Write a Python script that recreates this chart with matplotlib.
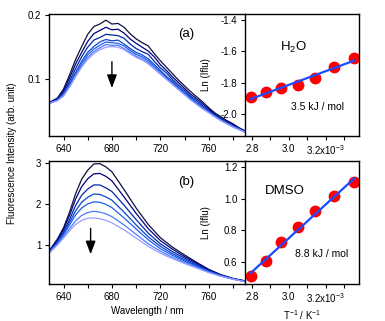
import numpy as np
import matplotlib
matplotlib.use("Agg")
import matplotlib.pyplot as plt
from matplotlib.ticker import FixedLocator, FixedFormatter

plt.rcParams['font.family'] = ['Liberation Sans', 'DejaVu Sans']
plt.rcParams['mathtext.fontset'] = 'custom'
plt.rcParams['mathtext.rm'] = 'Liberation Sans'
plt.rcParams['mathtext.it'] = 'Liberation Sans:italic'
plt.rcParams['mathtext.bf'] = 'Liberation Sans:bold'

# ---------------- spectra, water (panel a) ----------------
wl_a = [628, 630, 635, 640, 645, 650, 655, 660, 665, 670, 675, 680, 685, 690,
        695, 700, 705, 710, 715, 720, 725, 730, 735, 740, 745, 750, 755, 760,
        765, 770, 775, 780, 785, 790]
water_298 = [.064, .066, .071, .085, .107, .131, .151, .170, .182, .186, .192, .186, .187, .181,
             .171, .163, .157, .152, .140, .129, .119, .109, .099, .090, .081, .073, .065, .056,
             .048, .042, .036, .031, .025, .020]
water_308 = [.064, .065, .070, .082, .102, .124, .142, .159, .171, .176, .181, .177, .178, .172,
             .163, .156, .150, .144, .135, .123, .114, .104, .095, .086, .077, .070, .062, .054,
             .046, .040, .035, .030, .024, .019]
water_318 = [.063, .065, .069, .079, .097, .117, .135, .150, .161, .165, .170, .169, .168, .164,
             .155, .148, .143, .139, .128, .118, .110, .100, .091, .083, .074, .067, .059, .052,
             .045, .039, .033, .028, .024, .019]
water_328 = [.063, .064, .068, .077, .093, .111, .128, .142, .151, .158, .162, .160, .161, .155,
             .148, .142, .138, .132, .123, .114, .105, .097, .088, .080, .072, .064, .057, .050,
             .044, .038, .032, .027, .023, .018]
water_338 = [.063, .064, .068, .076, .091, .109, .124, .138, .147, .153, .158, .157, .156, .152,
             .145, .139, .135, .129, .120, .112, .103, .095, .087, .078, .070, .063, .056, .049,
             .043, .037, .032, .027, .023, .018]
water_348 = [.063, .064, .067, .075, .089, .106, .121, .134, .143, .149, .154, .153, .153, .148,
             .142, .136, .132, .126, .118, .109, .101, .093, .085, .077, .069, .062, .055, .049,
             .042, .036, .031, .026, .022, .018]
water_358 = [.063, .064, .067, .074, .088, .104, .119, .131, .140, .146, .150, .151, .150, .146,
             .140, .134, .130, .124, .116, .108, .100, .092, .084, .076, .068, .061, .054, .048,
             .042, .036, .031, .026, .022, .018]

# ---------------- spectra, DMSO (panel b) ----------------
wl_b = [628, 635, 640, 645, 650, 655, 660, 665, 670, 675, 680, 690, 700, 710,
        720, 730, 740, 750, 760, 770, 780, 790]
dmso_298 = [.85, 1.15, 1.42, 1.80, 2.25, 2.60, 2.82, 2.97, 2.98, 2.90, 2.78, 2.35, 1.90, 1.50,
            1.18, .95, .76, .58, .41, .28, .19, .13]
dmso_308 = [.84, 1.12, 1.375, 1.72, 2.12, 2.42, 2.61, 2.73, 2.74, 2.67, 2.56, 2.17, 1.77, 1.40,
            1.11, .90, .72, .555, .395, .27, .185, .125]
dmso_318 = [.83, 1.09, 1.32, 1.62, 1.96, 2.21, 2.36, 2.46, 2.46, 2.39, 2.30, 1.97, 1.62, 1.29,
            1.03, .84, .68, .525, .38, .265, .18, .12]
dmso_328 = [.82, 1.07, 1.28, 1.55, 1.83, 2.04, 2.16, 2.24, 2.23, 2.17, 2.09, 1.80, 1.49, 1.20,
            .97, .79, .64, .50, .365, .26, .18, .12]
dmso_338 = [.815, 1.05, 1.245, 1.49, 1.73, 1.90, 2.00, 2.05, 2.04, 1.99, 1.91, 1.66, 1.39, 1.13,
            .91, .75, .61, .48, .355, .25, .175, .115]
dmso_348 = [.81, 1.02, 1.20, 1.40, 1.59, 1.72, 1.79, 1.82, 1.80, 1.76, 1.69, 1.49, 1.26, 1.03,
            .85, .70, .58, .46, .34, .245, .17, .11]
dmso_358 = [.80, 1.00, 1.17, 1.35, 1.50, 1.60, 1.65, 1.66, 1.64, 1.60, 1.54, 1.37, 1.17, .97,
            .80, .67, .55, .44, .33, .24, .17, .11]

# ---------------- Arrhenius data ----------------
temperature_K = [358, 348, 338, 328, 318, 308, 298]
ln_flu_water = [-1.887, -1.861, -1.834, -1.815, -1.772, -1.696, -1.641]
ln_flu_dmso = [0.514, 0.608, 0.725, 0.819, 0.920, 1.018, 1.102]

water_curves = [water_298, water_308, water_318, water_328, water_338, water_348, water_358]
dmso_curves = [dmso_298, dmso_308, dmso_318, dmso_328, dmso_338, dmso_348, dmso_358]
curve_colors = ['#10103c', '#000080', '#0028a8', '#0a46cc', '#1e5ef0', '#4a7cff', '#9c9cff']

inv_T = 1e3 / np.array(temperature_K, dtype=float)

W, H = 385, 321
fig = plt.figure(figsize=(W / 100, H / 100), dpi=100)


def frame(px_left, px_top, px_right, px_bottom):
    return [px_left / W, 1 - px_bottom / H, (px_right - px_left) / W, (px_bottom - px_top) / H]


TICK = dict(direction='out', length=3, width=0.8, labelsize=7, pad=2.5, colors='black')


def spectra_panel(rect, wl, curves, ylim, yticks, ylabels, tag, arrow_x, arrow_y0, arrow_y1, show_xlabel):
    ax = fig.add_axes(rect)
    for c, col in zip(curves, curve_colors):
        ax.plot(wl, c, color=col, lw=0.9)
    ax.set_xlim(628, 790)
    ax.set_ylim(*ylim)
    ax.xaxis.set_major_locator(FixedLocator([640, 680, 720, 760]))
    ax.xaxis.set_minor_locator(FixedLocator([660, 700, 740, 780]))
    ax.yaxis.set_major_locator(FixedLocator(yticks))
    ax.yaxis.set_major_formatter(FixedFormatter(ylabels))
    ax.tick_params(which='both', **TICK)
    ax.tick_params(which='minor', length=3)
    ax.spines['right'].set_visible(False)
    for s in ax.spines.values():
        s.set_linewidth(1.0)
    ax.text(0.70, tag[1], tag[0], transform=ax.transAxes, fontsize=9.5,
            ha='center', va='center')
    ax.annotate('', xy=(arrow_x, arrow_y1), xytext=(arrow_x, arrow_y0),
                arrowprops=dict(arrowstyle='-|>,head_length=0.8,head_width=0.3',
                                color='black', lw=1.0, shrinkA=0, shrinkB=0))
    if show_xlabel:
        ax.set_xlabel('Wavelength / nm', fontsize=7, labelpad=3)
    return ax


def arrhenius_panel(rect, lnvals, ylim, yticks, ylabels, solvent, solvent_pos, energy, energy_pos, show_xlabel):
    ax = fig.add_axes(rect)
    slope, icpt = np.polyfit(inv_T, lnvals, 1)
    xf = np.array([inv_T.min(), inv_T.max()])
    ax.plot(inv_T, lnvals, 'o', color='#ff0000', ms=7.5, mec='#ff0000', zorder=2)
    ax.plot(xf, slope * xf + icpt, color='#1a4cff', lw=1.6, zorder=3)
    ax.set_xlim(2.762, 3.381)
    ax.set_ylim(*ylim)
    ax.xaxis.set_major_locator(FixedLocator([2.8, 3.0, 3.2]))
    ax.xaxis.set_major_formatter(FixedFormatter(['2.8', '3.0', '3.2x10$^{-3}$']))
    ax.xaxis.set_minor_locator(FixedLocator([2.9, 3.1, 3.3]))
    ax.yaxis.set_major_locator(FixedLocator(yticks))
    ax.yaxis.set_major_formatter(FixedFormatter(ylabels))
    ax.tick_params(which='both', **TICK)
    ax.tick_params(which='minor', length=3)
    for s in ax.spines.values():
        s.set_linewidth(1.0)
    ax.set_ylabel('Ln (Iflu)', fontsize=7)
    ax.yaxis.set_label_coords(-0.30, 0.5)
    ax.text(solvent_pos[0], solvent_pos[1], solvent, transform=ax.transAxes,
            fontsize=9.5, ha='center', va='center')
    ax.text(energy_pos[0], energy_pos[1], energy, transform=ax.transAxes,
            fontsize=7.5, ha='center', va='center')
    if show_xlabel:
        ax.set_xlabel('T$^{-1}$ / K$^{-1}$', fontsize=7, labelpad=2)
    return ax


spectra_panel(frame(49, 14, 245, 136), wl_a, water_curves, (0.012, 0.2016),
              [0.1, 0.2], ['0.1', '0.2'], ('(a)', 0.834), 680, 0.1274, 0.0865, False)
spectra_panel(frame(49, 160.7, 245, 284), wl_b, dmso_curves, (0.053, 3.05),
              [1, 2, 3], ['1', '2', '3'], ('(b)', 0.825), 662.4, 1.405, 0.774, True)

arrhenius_panel(frame(245, 14, 359, 136), ln_flu_water, (-2.138, -1.362),
                [-2.0, -1.8, -1.6, -1.4], ['-2.0', '-1.8', '-1.6', '-1.4'],
                'H$_2$O', (0.424, 0.724), '3.5 kJ / mol', (0.634, 0.235), False)
arrhenius_panel(frame(245, 160.7, 359, 284), ln_flu_dmso, (0.464, 1.238),
                [0.6, 0.8, 1.0, 1.2], ['0.6', '0.8', '1.0', '1.2'],
                'DMSO', (0.351, 0.754), '8.8 kJ / mol', (0.675, 0.243), True)

fig.text(12 / W, 1 - 153 / H, 'Fluorescence Intensity (arb. unit)', rotation=90,
         fontsize=7, ha='center', va='center')

fig.savefig('out.png', dpi=100)
